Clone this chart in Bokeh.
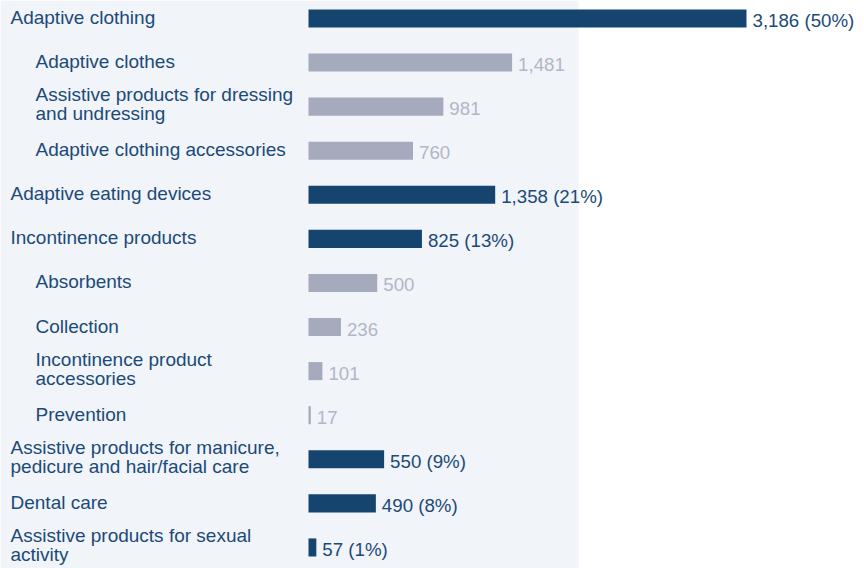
from bokeh.plotting import figure
from bokeh.models import ColumnDataSource, Range1d
from bokeh.core.properties import value
from bokeh.embed import file_html
from bokeh.resources import INLINE

labels = [
    "Adaptive clothing",
    "Adaptive clothes",
    "Assistive products for dressing\nand undressing",
    "Adaptive clothing accessories",
    "Adaptive eating devices",
    "Incontinence products",
    "Absorbents",
    "Collection",
    "Incontinence product\naccessories",
    "Prevention",
    "Assistive products for manicure,\npedicure and hair/facial care",
    "Dental care",
    "Assistive products for sexual\nactivity",
]
values = [3186, 1481, 981, 760, 1358, 825, 500, 236, 101, 17, 550, 490, 57]
levels = [1, 2, 2, 2, 1, 1, 2, 2, 2, 2, 1, 1, 1]
shares = ["50%", None, None, None, "21%", "13%", None, None, None, None, "9%", "8%", "1%"]

NAVY = "#15446f"
GREY = "#a5aabc"
GREY_TXT = "#b2b7c7"
LABEL = "#1b4a78"
PANEL = "#f1f4f8"

W, H = 864, 568
bar_x0 = 308          # px where bars start
px_per_unit = 438 / 3186
row_px = 44.08
row0_px = 18

xs = -bar_x0 / px_per_unit
xe = (W - bar_x0) / px_per_unit
ys = -row0_px / row_px
ye = (H - row0_px) / row_px

p = figure(width=W, height=H, output_backend="svg", toolbar_location=None,
           x_range=Range1d(xs, xe), y_range=Range1d(ye, ys),
           min_border=0, min_border_left=0, min_border_right=0,
           min_border_top=0, min_border_bottom=0)
p.axis.visible = False
p.grid.visible = False
p.outline_line_color = None
p.background_fill_color = "white"
p.border_fill_color = "white"

# background panel
panel_right = (578 - bar_x0) / px_per_unit
p.quad(left=xs, right=panel_right, bottom=ye, top=ys, fill_color=PANEL, line_color=None)

rows = list(range(len(values)))
colors = [NAVY if l == 1 else GREY for l in levels]
src = ColumnDataSource(dict(y=rows, v=values, c=colors))
p.hbar(y="y", left=0, right="v", height=0.41, fill_color="c", line_color=None, source=src)

# category labels
for lvl, off in ((1, -(bar_x0 - 10)), (2, -(bar_x0 - 35))):
    idx = [i for i in rows if levels[i] == lvl]
    s = ColumnDataSource(dict(y=[rows[i] for i in idx], t=[labels[i] for i in idx],
                              x=[0] * len(idx),
                              yo=[-2.5 if "\n" in labels[i] else -1 for i in idx]))
    p.text(x="x", y="y", text="t", source=s, x_offset=off, y_offset="yo",
           text_font=value("Liberation Sans"), text_font_size="19px",
           text_color=LABEL, text_baseline="middle", text_align="left",
           text_line_height=0.9)

# value labels
for lvl, col in ((1, LABEL), (2, GREY_TXT)):
    idx = [i for i in rows if levels[i] == lvl]
    txt = []
    for i in idx:
        t = f"{values[i]:,}"
        if shares[i]:
            t += f" ({shares[i]})"
        txt.append(t)
    s = ColumnDataSource(dict(y=[rows[i] for i in idx], x=[values[i] for i in idx], t=txt))
    p.text(x="x", y="y", text="t", source=s, x_offset=6, y_offset=2,
           text_font=value("Liberation Sans"), text_font_size="18.7px",
           text_color=col, text_baseline="middle", text_align="left")

open("out.html", "w").write(file_html(p, INLINE))
